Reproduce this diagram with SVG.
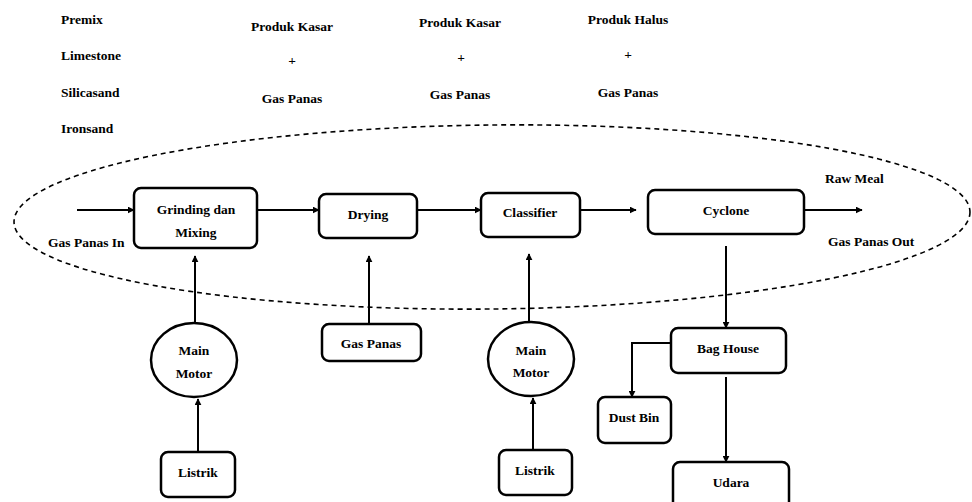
<svg xmlns="http://www.w3.org/2000/svg" width="972" height="502" viewBox="0 0 972 502">
<defs>
<marker id="ah" viewBox="0 0 10 10" refX="9" refY="5" markerWidth="7" markerHeight="7" markerUnits="userSpaceOnUse" orient="auto"><path d="M0,0 L10,5 L0,10 Z" fill="#000"/></marker>
<style>
text{font-family:"Liberation Serif","Times New Roman",serif;font-weight:bold;font-size:13.5px;fill:#000}
.c{text-anchor:middle}
.box{fill:#fff;stroke:#000;stroke-width:2.5}
.ln{fill:none;stroke:#000;stroke-width:2}
.ar{fill:none;stroke:#000;stroke-width:2;marker-end:url(#ah)}
</style>
</defs>
<rect width="972" height="502" fill="#fff"/>
<ellipse cx="492" cy="217" rx="478" ry="92" fill="none" stroke="#000" stroke-width="1.6" stroke-dasharray="5,4" transform="rotate(-0.6 492 217)"/>
<g id="labels">
<text x="61" y="24">Premix</text>
<text x="61" y="60">Limestone</text>
<text x="61" y="97">Silicasand</text>
<text x="61" y="133">Ironsand</text>
<text class="c" x="292" y="31">Produk Kasar</text>
<text class="c" x="292" y="65">+</text>
<text class="c" x="292" y="103">Gas Panas</text>
<text class="c" x="460" y="27">Produk Kasar</text>
<text class="c" x="461" y="62">+</text>
<text class="c" x="460" y="99">Gas Panas</text>
<text class="c" x="628" y="24">Produk Halus</text>
<text class="c" x="628" y="59">+</text>
<text class="c" x="628" y="97">Gas Panas</text>
<text x="48" y="247">Gas Panas In</text>
<text x="825" y="183">Raw Meal</text>
<text x="828" y="246">Gas Panas Out</text>
</g>
<g id="connectors">
<line class="ar" x1="77" y1="210" x2="134" y2="210"/>
<line class="ar" x1="257" y1="210" x2="319" y2="210"/>
<line class="ar" x1="417" y1="210" x2="481" y2="210"/>
<line class="ar" x1="580" y1="210" x2="636" y2="210"/>
<line class="ar" x1="804" y1="210" x2="862" y2="210"/>
<line class="ar" x1="195" y1="323" x2="195" y2="256"/>
<line class="ar" x1="198" y1="452" x2="198" y2="399"/>
<line class="ar" x1="369" y1="324" x2="369" y2="256"/>
<line class="ar" x1="529" y1="322" x2="529" y2="254"/>
<line class="ar" x1="533" y1="450" x2="533" y2="398"/>
<line class="ar" x1="726" y1="246" x2="726" y2="328"/>
<polyline class="ar" points="671,343 632,343 632,397"/>
<line class="ar" x1="726" y1="377" x2="726" y2="462"/>
</g>
<g id="grinding"><rect class="box" x="134" y="188" width="123" height="60" rx="7"/><text class="c" x="196" y="214">Grinding dan</text><text class="c" x="196" y="237">Mixing</text></g>
<g id="drying"><rect class="box" x="319" y="194" width="98" height="44" rx="7"/><text class="c" x="368" y="219">Drying</text></g>
<g id="classifier"><rect class="box" x="481" y="193" width="99" height="44" rx="7"/><text class="c" x="530" y="217">Classifier</text></g>
<g id="cyclone"><rect class="box" x="648" y="190" width="156" height="44" rx="7"/><text class="c" x="726" y="215">Cyclone</text></g>
<g id="mainmotor1"><ellipse class="box" cx="194" cy="360" rx="43" ry="37"/><text class="c" x="194" y="355">Main</text><text class="c" x="194" y="378">Motor</text></g>
<g id="listrik1"><rect class="box" x="161" y="452" width="74" height="45" rx="7"/><text class="c" x="198" y="477">Listrik</text></g>
<g id="gaspanas"><rect class="box" x="322" y="324" width="99" height="37" rx="7"/><text class="c" x="371" y="348">Gas Panas</text></g>
<g id="mainmotor2"><ellipse class="box" cx="531" cy="359" rx="43" ry="37"/><text class="c" x="531" y="355">Main</text><text class="c" x="531" y="377">Motor</text></g>
<g id="listrik2"><rect class="box" x="499" y="450" width="73" height="45" rx="7"/><text class="c" x="535" y="475">Listrik</text></g>
<g id="baghouse"><rect class="box" x="671" y="328" width="115" height="45" rx="7"/><text class="c" x="728" y="353">Bag House</text></g>
<g id="dustbin"><rect class="box" x="598" y="397" width="73" height="46" rx="7"/><text class="c" x="634" y="422">Dust Bin</text></g>
<g id="udara"><rect class="box" x="673" y="462" width="116" height="50" rx="7"/><text class="c" x="731" y="487">Udara</text></g>
</svg>
